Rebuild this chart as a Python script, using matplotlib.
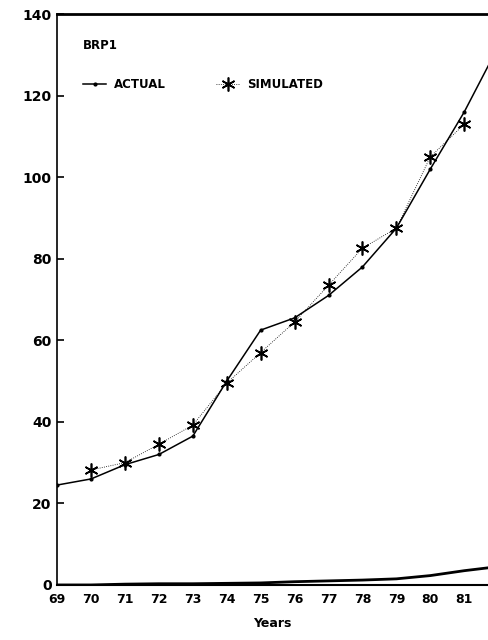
import matplotlib
matplotlib.use("Agg")
import matplotlib.pyplot as plt

# values (BRP1, actual vs simulated)
years = [69, 70, 71, 72, 73, 74, 75, 76, 77, 78, 79, 80, 81, 82]
actual = [24.5, 26, 29.5, 32, 36.5, 50, 62.5, 65.5, 71, 78, 87.5, 102, 116, 132]
sim_years = [70, 71, 72, 73, 74, 75, 76, 77, 78, 79, 80, 81]
simulated = [28.2, 30, 34.5, 39.2, 49.5, 57, 64.5, 73.5, 82.6, 87.5, 105, 113]
# faint curve hugging the x axis
base = [0, 0, 0.2, 0.3, 0.3, 0.4, 0.5, 0.8, 1.0, 1.2, 1.5, 2.3, 3.5, 4.5]
tick_years = [69, 70, 71, 72, 73, 74, 75, 76, 77, 78, 79, 80, 81]
yticks = [0, 20, 40, 60, 80, 100, 120, 140]

plt.rcParams['font.family'] = ['DejaVu Sans']

fig = plt.figure(figsize=(4.88, 6.4), dpi=100)
ax = fig.add_axes([0.117, 0.086, 0.883, 0.892])

ax.plot(years, actual, color='black', lw=1.1, marker='o', ms=2, label='ACTUAL')
ax.plot(sim_years, simulated, color='black', lw=0.6, ls=':', marker=(6, 2, 0),
        ms=10, mew=1.2, label='SIMULATED')
ax.plot(years, base, color='black', lw=2)

ax.set_xlim(69, 81.7)
ax.set_ylim(0, 140)
ax.set_yticks(yticks)
ax.set_xticks(tick_years)
ax.set_xticklabels([str(y) for y in tick_years], fontweight='bold', fontsize=9)
ax.set_yticklabels([str(v) for v in yticks], fontweight='bold', fontsize=10)
ax.tick_params(axis='y', direction='in', length=5, width=1.2, pad=4)
ax.tick_params(axis='x', length=0, pad=6)

ax.spines['right'].set_visible(False)
ax.spines['top'].set_linewidth(2)
ax.spines['left'].set_linewidth(1.2)
ax.spines['bottom'].set_linewidth(1.5)

ax.set_xlabel('Years', fontweight='bold', fontsize=9, labelpad=8)

leg = ax.legend(title='BRP1', loc='upper left', bbox_to_anchor=(0.035, 0.975),
                ncol=2, frameon=False, handlelength=2.0, handletextpad=0.6,
                columnspacing=4.3, labelspacing=0.3,
                prop={'weight': 'bold', 'size': 8.5},
                title_fontproperties={'weight': 'bold', 'size': 8.5})
leg._legend_box.align = 'left'
leg._legend_box.sep = 19

fig.savefig('out.png', dpi=100)
